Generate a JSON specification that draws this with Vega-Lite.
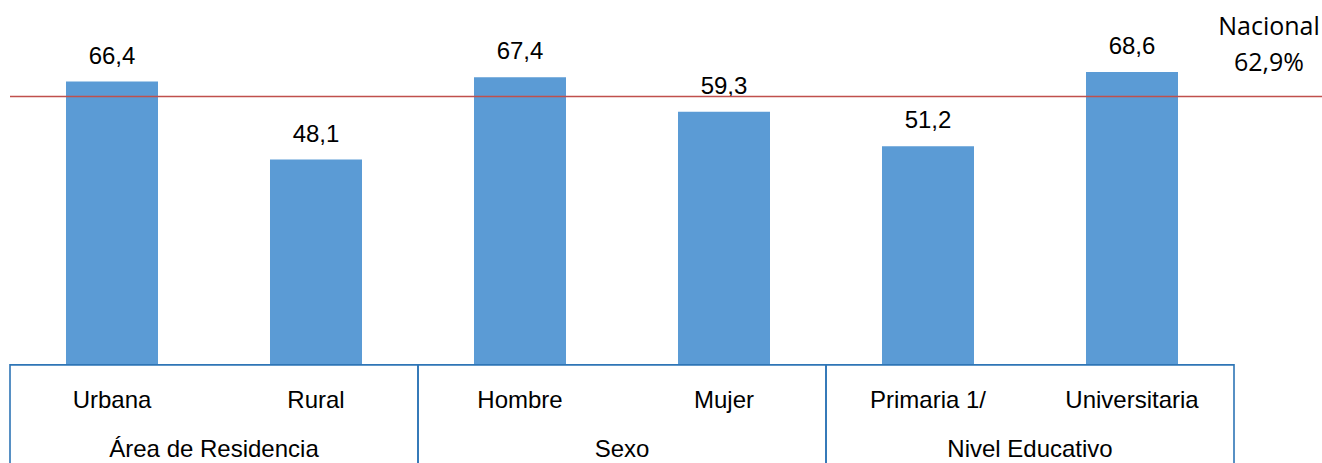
{
  "$schema": "https://vega.github.io/schema/vega-lite/v6.json",
  "width": 1312,
  "height": 463,
  "autosize": {"type": "none"},
  "padding": {"left": 10, "top": 0, "right": 0, "bottom": 0},
  "background": "white",
  "config": {"view": {"stroke": null}},
  "datasets": {
    "barras": [
      {"cat": "Urbana", "grupo": "Área de Residencia", "valor": 66.4, "etiqueta": "66,4"},
      {"cat": "Rural", "grupo": "Área de Residencia", "valor": 48.1, "etiqueta": "48,1"},
      {"cat": "Hombre", "grupo": "Sexo", "valor": 67.4, "etiqueta": "67,4"},
      {"cat": "Mujer", "grupo": "Sexo", "valor": 59.3, "etiqueta": "59,3"},
      {"cat": "Primaria 1/", "grupo": "Nivel Educativo", "valor": 51.2, "etiqueta": "51,2"},
      {"cat": "Universitaria", "grupo": "Nivel Educativo", "valor": 68.6, "etiqueta": "68,6"}
    ],
    "grupos": [
      {"grupo": "Área de Residencia"},
      {"grupo": "Sexo"},
      {"grupo": "Nivel Educativo"}
    ],
    "nacional": [
      {"nombre": "Nacional", "valor": 62.9, "etiqueta": "62,9%"}
    ]
  },
  "layer": [
    {
      "data": {"name": "barras"},
      "mark": {"type": "bar", "color": "#5B9BD5"},
      "encoding": {
        "x": {"field": "cat", "type": "nominal", "sort": null, "axis": null,
              "scale": {"domain": ["Urbana", "Rural", "Hombre", "Mujer", "Primaria 1/", "Universitaria"], "range": [0, 1224], "paddingInner": 0.549, "paddingOuter": 0.2745}},
        "y": {"field": "valor", "type": "quantitative", "axis": null, "scale": {"domain": [-23, 85.5], "nice": false, "zero": false}},
        "y2": {"datum": 0}
      }
    },
    {
      "data": {"name": "barras"},
      "mark": {"type": "text", "font": "Liberation Sans", "fontSize": 24, "color": "#000000", "baseline": "alphabetic", "align": "center", "dy": -18},
      "encoding": {
        "x": {"field": "cat", "type": "nominal", "sort": null, "axis": null,
              "scale": {"domain": ["Urbana", "Rural", "Hombre", "Mujer", "Primaria 1/", "Universitaria"], "range": [0, 1224], "paddingInner": 0.549, "paddingOuter": 0.2745}},
        "y": {"field": "valor", "type": "quantitative", "axis": null},
        "text": {"field": "etiqueta"}
      }
    },
    {
      "data": {"name": "barras"},
      "mark": {"type": "text", "font": "Liberation Sans", "fontSize": 24, "color": "#000000", "baseline": "alphabetic", "align": "center", "dy": 43},
      "encoding": {
        "x": {"field": "cat", "type": "nominal", "sort": null, "axis": null,
              "scale": {"domain": ["Urbana", "Rural", "Hombre", "Mujer", "Primaria 1/", "Universitaria"], "range": [0, 1224], "paddingInner": 0.549, "paddingOuter": 0.2745}},
        "y": {"datum": 0, "type": "quantitative", "axis": null},
        "text": {"field": "cat"}
      }
    },
    {
      "data": {"name": "grupos"},
      "mark": {"type": "rect", "fill": null, "fillOpacity": 0, "stroke": "#2E75B6", "strokeWidth": 1.6},
      "encoding": {
        "x": {"field": "grupo", "type": "nominal", "sort": null, "axis": null,
              "scale": {"domain": ["Área de Residencia", "Sexo", "Nivel Educativo"], "range": [0, 1224], "paddingInner": 0, "paddingOuter": 0}},
        "y": {"datum": 0, "type": "quantitative", "axis": null},
        "y2": {"datum": -25}
      }
    },
    {
      "data": {"name": "grupos"},
      "mark": {"type": "text", "font": "Liberation Sans", "fontSize": 24, "color": "#000000", "baseline": "alphabetic", "align": "center", "dy": 92},
      "encoding": {
        "x": {"field": "grupo", "type": "nominal", "sort": null, "axis": null,
              "scale": {"domain": ["Área de Residencia", "Sexo", "Nivel Educativo"], "range": [0, 1224], "paddingInner": 0, "paddingOuter": 0}},
        "y": {"datum": 0, "type": "quantitative", "axis": null},
        "text": {"field": "grupo"}
      }
    },
    {
      "data": {"name": "nacional"},
      "mark": {"type": "rule", "color": "#C0504D", "strokeWidth": 1.5},
      "encoding": {
        "y": {"field": "valor", "type": "quantitative", "axis": null}
      }
    },
    {
      "data": {"name": "nacional"},
      "mark": {"type": "text", "font": "Open Sans", "fontSize": 25, "color": "#000000", "baseline": "alphabetic", "align": "center", "dx": -53, "dy": -61, "lineHeight": 36},
      "encoding": {
        "x": {"value": "width"},
        "y": {"field": "valor", "type": "quantitative", "axis": null},
        "text": {"value": ["Nacional", "62,9%"]}
      }
    }
  ],
  "resolve": {"scale": {"x": "independent"}}
}
